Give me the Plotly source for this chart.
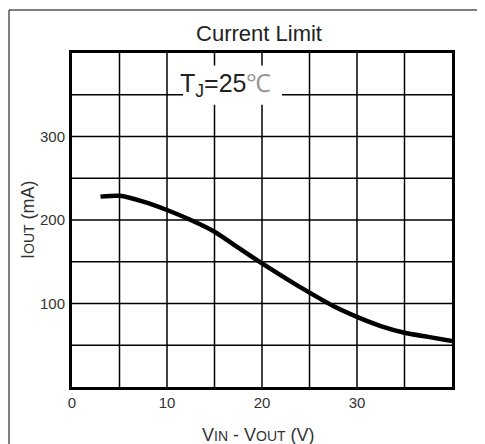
import plotly.graph_objects as go

# Data
v_diff = [3, 5, 7.5, 10, 12.5, 15, 17.5, 20, 22.5, 25, 27.5, 30, 32.5, 35, 37.5, 40]
i_out = [228, 229, 222, 212, 200, 186, 167, 148, 130, 113, 97, 84, 73, 65, 60, 55]
x_ticks = [0, 10, 20, 30]
y_ticks = [100, 200, 300]

FONT = "Arial, Liberation Sans, sans-serif"

# page body adds an 8px offset; figure sized to compensate
W, H = 477, 436
ML, MR, MT, MB = 64, 33, 45, 57
PW, PH = W - ML - MR, H - MT - MB
PB = H - MB  # plot bottom in figure px


def px_x(fx):
    return (fx - ML) / PW


def px_y(fy):
    return (PB - fy) / PH


fig = go.Figure()
fig.add_trace(go.Scatter(
    x=v_diff, y=i_out, mode="lines",
    line=dict(color="black", width=4.5, shape="spline", smoothing=0.6),
    hoverinfo="skip", showlegend=False,
))

fig.update_layout(
    width=W, height=H,
    margin=dict(l=ML, r=MR, t=MT, b=MB),
    paper_bgcolor="white", plot_bgcolor="white",
    font=dict(family=FONT, color="#333", size=15),
    title=dict(text="Current Limit", x=(259 - 8) / W, xref="container", xanchor="center",
               y=1 - 25 / H, yanchor="middle",
               font=dict(family=FONT, size=22, color="#222")),
    xaxis=dict(
        range=[0, 40], tickmode="array",
        tickvals=x_ticks, ticktext=[str(t) for t in x_ticks],
        showgrid=False, zeroline=False, automargin=False,
        showline=True, linecolor="black", linewidth=3, mirror=True,
        ticks="", ticklabelstandoff=0,
        tickfont=dict(size=15, color="#333"),
    ),
    yaxis=dict(
        range=[0, 400], tickmode="array",
        tickvals=y_ticks, ticktext=[str(t) for t in y_ticks],
        showgrid=False, zeroline=False, automargin=False,
        showline=True, linecolor="black", linewidth=3, mirror=True,
        ticks="", ticklabelstandoff=1,
        tickfont=dict(size=15, color="#333"),
    ),
)

# axis titles
fig.add_annotation(
    x=px_x(258 - 8), y=px_y(435 - 8), xref="paper", yref="paper", showarrow=False,
    xanchor="center", yanchor="middle",
    text="V<span style='font-size:14px'>IN</span> - V<span style='font-size:14px'>OUT</span> (V)",
    font=dict(family=FONT, size=18, color="#333"),
)
fig.add_annotation(
    x=px_x(28 - 8), y=px_y(220 - 8), xref="paper", yref="paper", showarrow=False,
    xanchor="center", yanchor="middle", textangle=-90,
    text="I<span style='font-size:14px'>OUT</span> (mA)",
    font=dict(family=FONT, size=18, color="#333"),
)

# grid lines (every 5 V and every 50 mA)
for xv in range(5, 40, 5):
    fig.add_shape(type="line", xref="x", yref="y", x0=xv, x1=xv, y0=0, y1=400,
                  line=dict(color="black", width=1.5), layer="below")
for yv in range(50, 400, 50):
    fig.add_shape(type="line", xref="x", yref="y", x0=0, x1=40, y0=yv, y1=yv,
                  line=dict(color="black", width=1.5), layer="below")

# white box behind the temperature label
fig.add_shape(type="rect", xref="x", yref="y", x0=11.7, x1=22.1, y0=338, y1=385,
              line=dict(width=0), fillcolor="white", layer="above")
fig.add_annotation(
    x=16.2, y=362, xref="x", yref="y", showarrow=False,
    text="T<sub>J</sub>=25<span style='color:#999'>℃</span>",
    font=dict(family=FONT, size=25, color="#222"),
)

# outer frame
fig.add_shape(type="rect", xref="paper", yref="paper",
              x0=px_x(1), x1=px_x(475),
              y0=px_y(H + 20), y1=px_y(2),
              line=dict(color="black", width=1), fillcolor="rgba(0,0,0,0)", layer="above")

fig.write_html("out.html")
